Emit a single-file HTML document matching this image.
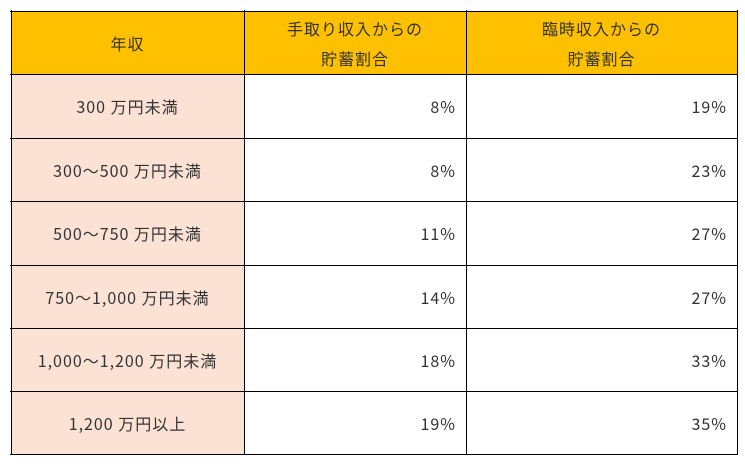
<!DOCTYPE html>
<html><head><meta charset="utf-8"><style>
body{margin:0;width:745px;height:466px;background:#fff;position:relative;font-family:"Noto Sans CJK JP","Liberation Sans",sans-serif;font-size:16px;letter-spacing:1px;color:#333;overflow:hidden}
.c{position:absolute;box-sizing:border-box;display:flex;align-items:center;justify-content:center;text-align:center;line-height:20px}
.r{justify-content:flex-end;padding-right:10px}
.h{background:#FFC000;line-height:30px}
.p{background:#FBE2D5}
.hl{position:absolute;background:#000;height:1.5px}
.vl{position:absolute;background:#000;width:1.5px}
</style></head><body>
<div class="c h" style="left:11px;top:11px;width:233px;height:63px">年収</div>
<div class="c h" style="left:244px;top:11px;width:222px;height:63px">手取り収入からの<br>貯蓄割合</div>
<div class="c h" style="left:466px;top:11px;width:271px;height:63px">臨時収入からの<br>貯蓄割合</div>

<div class="c p" style="left:11px;top:74px;width:233px;height:64px">300 万円未満</div>
<div class="c r" style="left:244px;top:74px;width:222px;height:64px">8%</div>
<div class="c r" style="left:466px;top:74px;width:271px;height:64px">19%</div>

<div class="c p" style="left:11px;top:138px;width:233px;height:63px">300～500 万円未満</div>
<div class="c r" style="left:244px;top:138px;width:222px;height:63px">8%</div>
<div class="c r" style="left:466px;top:138px;width:271px;height:63px">23%</div>

<div class="c p" style="left:11px;top:201px;width:233px;height:64px">500～750 万円未満</div>
<div class="c r" style="left:244px;top:201px;width:222px;height:64px">11%</div>
<div class="c r" style="left:466px;top:201px;width:271px;height:64px">27%</div>

<div class="c p" style="left:11px;top:265px;width:233px;height:63px">750～1,000 万円未満</div>
<div class="c r" style="left:244px;top:265px;width:222px;height:63px">14%</div>
<div class="c r" style="left:466px;top:265px;width:271px;height:63px">27%</div>

<div class="c p" style="left:11px;top:328px;width:233px;height:63px">1,000～1,200 万円未満</div>
<div class="c r" style="left:244px;top:328px;width:222px;height:63px">18%</div>
<div class="c r" style="left:466px;top:328px;width:271px;height:63px">33%</div>

<div class="c p" style="left:11px;top:391px;width:233px;height:63px">1,200 万円以上</div>
<div class="c r" style="left:244px;top:391px;width:222px;height:63px">19%</div>
<div class="c r" style="left:466px;top:391px;width:271px;height:63px">35%</div>

<div class="hl" style="left:10px;top:10.5px;width:728px"></div>
<div class="hl" style="left:10px;top:73.5px;width:728px"></div>
<div class="hl" style="left:10px;top:137.5px;width:728px"></div>
<div class="hl" style="left:10px;top:200.5px;width:728px"></div>
<div class="hl" style="left:10px;top:264.5px;width:728px"></div>
<div class="hl" style="left:10px;top:327.5px;width:728px"></div>
<div class="hl" style="left:10px;top:390.5px;width:728px"></div>
<div class="hl" style="left:10px;top:453.5px;width:728px"></div>
<div class="vl" style="left:10.5px;top:10px;height:445px"></div>
<div class="vl" style="left:243.5px;top:10px;height:445px"></div>
<div class="vl" style="left:465.5px;top:10px;height:445px"></div>
<div class="vl" style="left:736.5px;top:10px;height:445px"></div>
</body></html>
